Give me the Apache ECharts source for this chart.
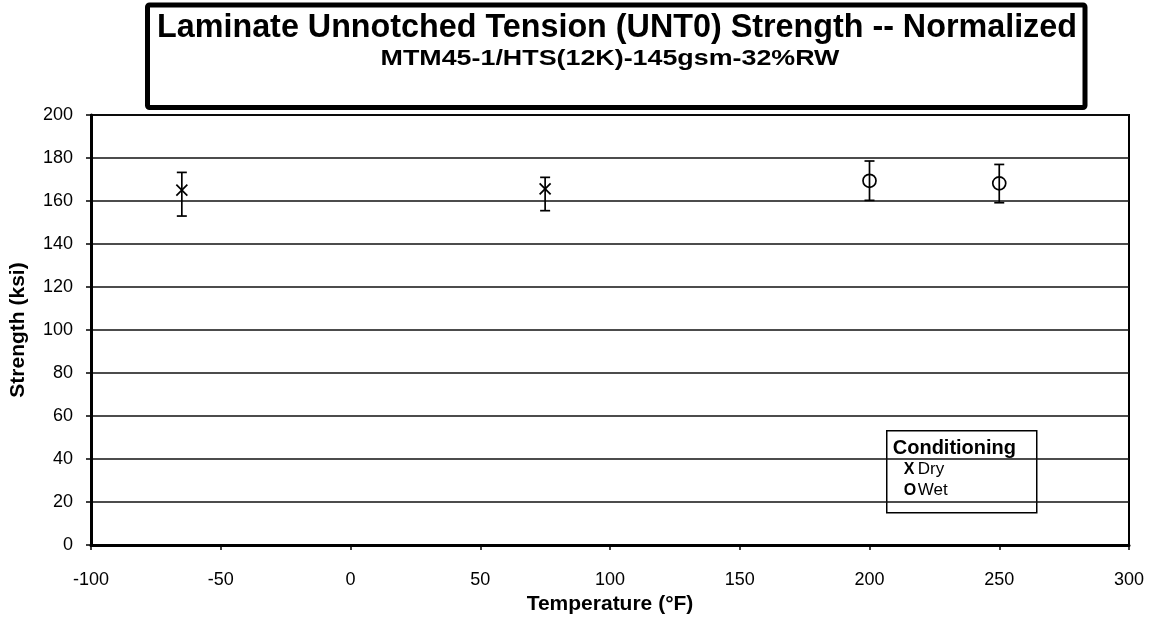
<!DOCTYPE html>
<html>
<head>
<meta charset="utf-8">
<title>Laminate Unnotched Tension (UNT0) Strength -- Normalized</title>
<script src="https://cdn.jsdelivr.net/npm/echarts@6/dist/echarts.min.js"></script>
<style>
  html, body { margin: 0; padding: 0; background: #ffffff; }
  #chart { width: 1153px; height: 623px; }
</style>
</head>
<body>
<div id="chart"></div>
<script>
// Test temperatures (°F) and normalized strength statistics (ksi)
const temps = [-65, 75, 200, 250];
const conditioning = ['Dry', 'Dry', 'Wet', 'Wet'];
const meanStrength = [165.1, 165.6, 169.4, 168.2];
const minStrength = [153.0, 155.5, 160.3, 159.2];
const maxStrength = [173.3, 171.0, 178.6, 177.0];

const xTicks = { min: -100, max: 300, interval: 50 };
const yTicks = { min: 0, max: 200, interval: 20 };

const FONT = 'Liberation Sans, Arial, Helvetica, sans-serif';

const points = temps.map((t, i) => [
  t, meanStrength[i], minStrength[i], maxStrength[i], conditioning[i] === 'Dry' ? 0 : 1
]);

// Error bar with an X (dry) or open circle (wet) marker at the mean
function renderPoint(params, api) {
  const x = api.value(0);
  const mid = api.coord([x, api.value(1)]);
  const lo = api.coord([x, api.value(2)]);
  const hi = api.coord([x, api.value(3)]);
  const kind = api.value(4);
  const style = { stroke: '#000', lineWidth: 1.7, fill: null };
  const cap = 5;
  const children = [
    { type: 'line', shape: { x1: lo[0], y1: lo[1], x2: hi[0], y2: hi[1] }, style },
    { type: 'line', shape: { x1: lo[0] - cap, y1: lo[1], x2: lo[0] + cap, y2: lo[1] }, style },
    { type: 'line', shape: { x1: hi[0] - cap, y1: hi[1], x2: hi[0] + cap, y2: hi[1] }, style }
  ];
  if (kind === 0) {
    const s = 5.5;
    children.push(
      { type: 'line', shape: { x1: mid[0] - s, y1: mid[1] - s, x2: mid[0] + s, y2: mid[1] + s }, style },
      { type: 'line', shape: { x1: mid[0] - s, y1: mid[1] + s, x2: mid[0] + s, y2: mid[1] - s }, style }
    );
  } else {
    children.push({ type: 'circle', shape: { cx: mid[0], cy: mid[1], r: 6.5 }, style: { stroke: '#000', lineWidth: 1.7, fill: 'none' } });
  }
  return { type: 'group', children };
}

const chart = echarts.init(document.getElementById('chart'), null, { renderer: 'canvas' });

chart.setOption({
  animation: false,
  backgroundColor: '#ffffff',
  grid: {
    left: 90, top: 115, right: 24, bottom: 78,
    show: true, borderColor: '#000', borderWidth: 2, backgroundColor: 'transparent'
  },
  xAxis: {
    type: 'value',
    min: xTicks.min, max: xTicks.max, interval: xTicks.interval,
    name: 'Temperature (°F)',
    nameLocation: 'middle',
    nameGap: 41,
    nameTextStyle: { fontFamily: FONT, fontSize: 21, fontWeight: 'bold', color: '#000' },
    axisLine: { onZero: false, lineStyle: { color: '#000', width: 3 } },
    axisTick: { show: true, inside: false, length: 5, lineStyle: { color: '#000', width: 1.5 } },
    axisLabel: { fontFamily: FONT, fontSize: 18, color: '#000', margin: 26 },
    splitLine: { show: false }
  },
  yAxis: {
    type: 'value',
    min: yTicks.min, max: yTicks.max, interval: yTicks.interval,
    name: 'Strength (ksi)',
    nameLocation: 'middle',
    nameGap: 62,
    nameTextStyle: { fontFamily: FONT, fontSize: 21, fontWeight: 'bold', color: '#000' },
    axisLine: { show: true, onZero: false, lineStyle: { color: '#000', width: 3 } },
    axisTick: { show: true, inside: false, length: 5, lineStyle: { color: '#000', width: 1.5 } },
    axisLabel: { fontFamily: FONT, fontSize: 18, color: '#000', margin: 18 },
    splitLine: { show: true, lineStyle: { color: '#111', width: 1.5 } }
  },
  graphic: [
    {
      type: 'rect',
      shape: { x: 147.5, y: 5, width: 937.5, height: 102.5, r: 2 },
      style: { fill: '#fff', stroke: '#000', lineWidth: 5 },
      z: 1
    },
    {
      type: 'text',
      x: 617, y: 28,
      style: {
        text: 'Laminate Unnotched Tension (UNT0) Strength -- Normalized',
        font: 'bold 32.3px ' + FONT, fill: '#000', align: 'center', verticalAlign: 'middle'
      },
      z: 2
    },
    {
      type: 'text',
      x: 610, y: 59,
      scaleX: 1.22,
      style: {
        text: 'MTM45-1/HTS(12K)-145gsm-32%RW',
        font: 'bold 22px ' + FONT, fill: '#000', align: 'center', verticalAlign: 'middle'
      },
      z: 2
    },
    {
      type: 'group',
      left: 886, top: 430,
      z: 10,
      children: [
        { type: 'rect', shape: { x: 0, y: 0, width: 150, height: 82 }, style: { fill: '#fff', stroke: '#000', lineWidth: 1.5 } },
        { type: 'text', x: 6, y: 18, style: { text: 'Conditioning', font: 'bold 20px ' + FONT, fill: '#000', verticalAlign: 'middle' } },
        { type: 'text', x: 17, y: 39, style: { text: 'X', font: 'bold 16px ' + FONT, fill: '#000', verticalAlign: 'middle' } },
        { type: 'text', x: 31, y: 39, style: { text: 'Dry', font: '17px ' + FONT, fill: '#000', verticalAlign: 'middle' } },
        { type: 'text', x: 17, y: 60, style: { text: 'O', font: 'bold 16px ' + FONT, fill: '#000', verticalAlign: 'middle' } },
        { type: 'text', x: 31, y: 60, style: { text: 'Wet', font: '17px ' + FONT, fill: '#000', verticalAlign: 'middle' } }
      ]
    }
  ],
  series: [
    {
      type: 'custom',
      name: 'Strength',
      renderItem: renderPoint,
      data: points,
      encode: { x: 0, y: [1, 2, 3] },
      z: 5,
      clip: false
    }
  ]
});
</script>
</body>
</html>
